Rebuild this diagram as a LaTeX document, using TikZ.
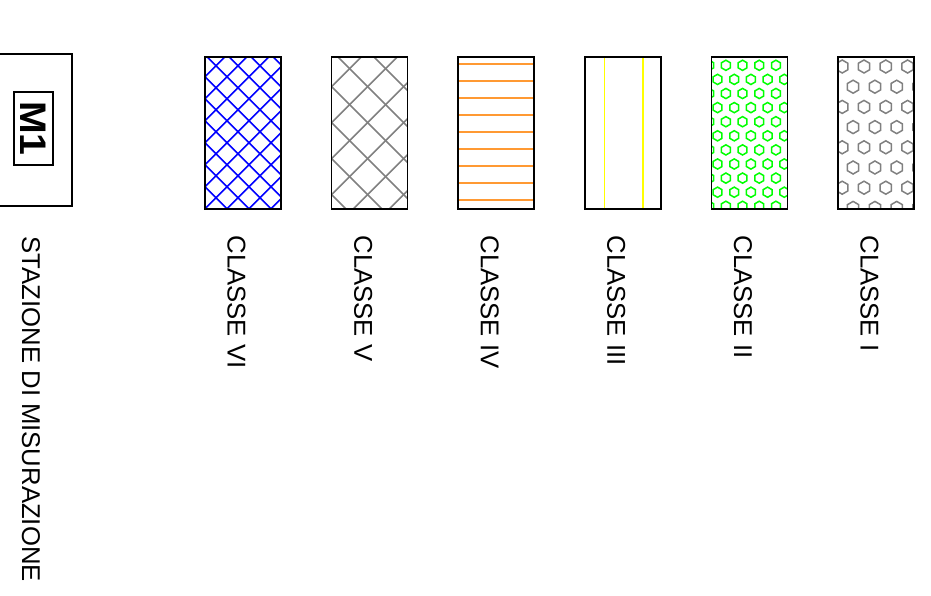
\documentclass[tikz,border=0pt]{standalone}
\usepackage{fontspec}
\setmainfont{Liberation Sans}
\usepackage{tikz}
\usetikzlibrary{positioning}
\usepackage{xcolor}
\definecolor{hatchblue}{RGB}{0,0,255}
\definecolor{hatchgray}{RGB}{128,128,128}
\definecolor{lineorange}{RGB}{255,153,51}
\definecolor{lineyellow}{RGB}{255,255,0}
\definecolor{hexgreen}{RGB}{0,255,0}

\begin{document}
\begin{tikzpicture}[
    x=1pt, y=-1pt,
    node distance=50.6pt,
    swatch/.style={rectangle, draw=black, line width=1.7pt, outer sep=0pt, inner sep=0pt, minimum width=76pt, minimum height=152pt},
    classlabel/.style={rotate=-90, anchor=west, inner sep=0pt, font=\fontsize{25.7}{30}\selectfont},
    % patterns: coordinates are taken from the swatch centre
    crosshatch/.style n args={4}{path picture={
        \foreach \k in {-8,...,12} {
            \draw[#1, line width=1.6pt] (#3+\k*#2-38, -76) -- ++(-180,180);
            \draw[#1, line width=1.6pt] (#4+\k*#2-38, -76) -- ++(180,180);
        }}},
    hlines/.style={path picture={
        \foreach \k in {0,...,8}
            \draw[lineorange, line width=1.8pt] (-38, 7+\k*17-76) -- (38, 7+\k*17-76);
        }},
    vlines/.style={path picture={
        \draw[lineyellow, line width=1.8pt] (19.7-38, -76) -- (19.7-38, 76);
        \draw[lineyellow, line width=1.8pt] (58-38, -76) -- (58-38, 76);
        }},
    hexgrid/.style n args={6}{path picture={
        \foreach \j in {0,...,10}
            \foreach \i in {-1,...,5} {
                \pgfmathsetmacro\hx{#5+\i*#3-mod(\j,2)*#3/2-38}
                \pgfmathsetmacro\hy{#6+\j*#4-76}
                \draw[#1, line width=1.5pt] (\hx,\hy) +(90:#2) -- +(150:#2) -- +(210:#2) -- +(270:#2) -- +(330:#2) -- +(30:#2) -- cycle;
            }}},
]
    \useasboundingbox (0,0) rectangle (931,595);

    % Measuring station
    \node[swatch, anchor=north west] (m1) at (-4,54) {};
    \node[draw=black, line width=1.6pt, rotate=-90, inner sep=0pt, minimum width=73pt, minimum height=39pt, font=\fontsize{37}{44}\selectfont\bfseries] (m1tag) at (33.5,128.5) {\scalebox{1.06}[1]{M1}};
    \node[classlabel] (m1label) at ([xshift=-3pt, yshift=-30.5pt]m1.south) {STAZIONE DI MISURAZIONE};

    % Class swatches
    \node[swatch, anchor=north west, crosshatch={hatchblue}{22}{19.7}{2.3}] (cvi) at (205,57) {};
    \node[swatch, right=of cvi, crosshatch={hatchgray}{36}{29.7}{6.3}] (cv) {};
    \node[swatch, right=of cv, hlines] (civ) {};
    \node[swatch, right=of civ, vlines] (ciii) {};
    \node[swatch, right=of ciii, hexgrid={hexgreen}{5.1}{16.67}{14.1}{14.5}{8.3}] (cii) {};
    \node[swatch, right=of cii, hexgrid={hatchgray}{6.5}{21.8}{20.2}{4.2}{9.5}] (ci) {};

    % Class labels
    \node[classlabel] (lvi) at ([xshift=-6.5pt, yshift=-26.5pt]cvi.south) {CLASSE VI};
    \node[classlabel] (lv) at ([xshift=-6.5pt, yshift=-26.5pt]cv.south) {CLASSE V};
    \node[classlabel] (liv) at ([xshift=-6.5pt, yshift=-26.5pt]civ.south) {CLASSE IV};
    \node[classlabel] (liii) at ([xshift=-6.5pt, yshift=-26.5pt]ciii.south) {CLASSE III};
    \node[classlabel] (lii) at ([xshift=-6.5pt, yshift=-26.5pt]cii.south) {CLASSE II};
    \node[classlabel] (li) at ([xshift=-6.5pt, yshift=-26.5pt]ci.south) {CLASSE I};

\end{tikzpicture}
\end{document}
